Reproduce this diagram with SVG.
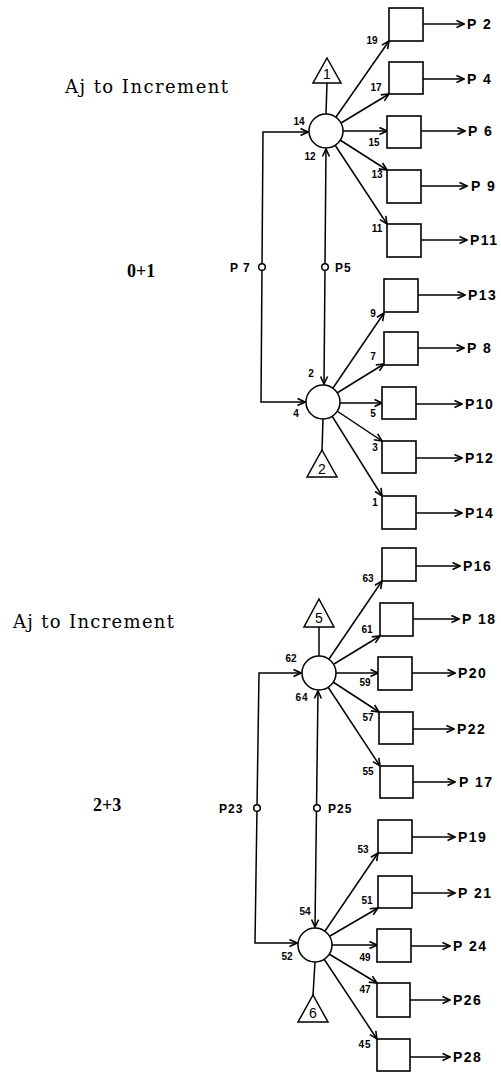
<svg xmlns="http://www.w3.org/2000/svg" width="501" height="1072" viewBox="0 0 501 1072">
<style>
.ln{stroke:#000;stroke-width:1.5;fill:none}
.bx{stroke:#000;stroke-width:1.6;fill:#fff}
.nd{stroke:#000;stroke-width:1.5;fill:#fff}
.ar{marker-end:url(#ah)}
.n{font-family:"Liberation Sans",Arial,sans-serif;font-weight:bold;font-size:10px;text-anchor:middle}
.p{font-family:"Liberation Sans",Arial,sans-serif;font-weight:bold;font-size:14px;letter-spacing:1.5px}
.ps{font-family:"Liberation Sans",Arial,sans-serif;font-weight:bold;font-size:12px;letter-spacing:1px}
.t{font-family:"Liberation Sans",Arial,sans-serif;font-size:14px;text-anchor:middle}
.s{font-family:"DejaVu Serif","Liberation Serif",serif;font-size:18px}
.d{font-family:"Liberation Serif","Times New Roman",serif;font-size:18px;font-weight:bold}
</style>
<defs>
<marker id="ah" viewBox="-9 -5 10 10" refX="0" refY="0" markerWidth="10" markerHeight="10" markerUnits="userSpaceOnUse" orient="auto-start-reverse">
<path d="M-7.5,-3.5 L0,0 L-7.5,3.5" fill="none" stroke="#000" stroke-width="1.6"/>
</marker>
</defs>
<rect width="501" height="1072" fill="#fff"/>

<g id="titles">
<text class="s" x="65" y="93" textLength="163" lengthAdjust="spacing">Aj to Increment</text>
<text class="d" x="127" y="277">0+1</text>
<text class="s" x="13" y="628" textLength="161" lengthAdjust="spacing">Aj to Increment</text>
<text class="d" x="93" y="811">2+3</text>
</g>

<g id="connectors">
<path class="ln" d="M326,114 L327,83"/>
<path class="ln" d="M323,419 L322,450"/>
<path class="ln" marker-start="url(#ah)" marker-end="url(#ah)" d="M308,132 H263 L261,402 H305"/>
<path class="ln" marker-start="url(#ah)" marker-end="url(#ah)" d="M326,149 L324,384"/>
<line class="ln ar" x1="336" y1="117" x2="389" y2="41"/>
<line class="ln ar" x1="341" y1="123" x2="389" y2="94"/>
<line class="ln ar" x1="343" y1="131" x2="387" y2="131"/>
<line class="ln ar" x1="340" y1="140" x2="387" y2="170"/>
<line class="ln ar" x1="335" y1="145" x2="387" y2="224"/>
<line class="ln ar" x1="333" y1="388" x2="384" y2="313"/>
<line class="ln ar" x1="337" y1="393" x2="384" y2="364"/>
<line class="ln ar" x1="340" y1="403" x2="382" y2="403"/>
<line class="ln ar" x1="337" y1="411" x2="382" y2="441"/>
<line class="ln ar" x1="332" y1="416" x2="382" y2="496"/>
<line class="ln ar" x1="423" y1="24" x2="464" y2="24"/>
<line class="ln ar" x1="423" y1="79" x2="464" y2="79"/>
<line class="ln ar" x1="421" y1="131" x2="465" y2="131"/>
<line class="ln ar" x1="421" y1="186" x2="467" y2="186"/>
<line class="ln ar" x1="421" y1="240" x2="467" y2="240"/>
<line class="ln ar" x1="418" y1="295" x2="465" y2="295"/>
<line class="ln ar" x1="418" y1="348" x2="464" y2="348"/>
<line class="ln ar" x1="416" y1="404" x2="462" y2="404"/>
<line class="ln ar" x1="416" y1="458" x2="462" y2="458"/>
<line class="ln ar" x1="416" y1="513" x2="462" y2="513"/>
<path class="ln" d="M319,656 L319,627"/>
<path class="ln" d="M315,962 L313,995"/>
<path class="ln" marker-start="url(#ah)" marker-end="url(#ah)" d="M301,673 H259 L255,943 H297"/>
<path class="ln" marker-start="url(#ah)" marker-end="url(#ah)" d="M318,691 L315,927"/>
<line class="ln ar" x1="329" y1="659" x2="382" y2="581"/>
<line class="ln ar" x1="334" y1="664" x2="380" y2="636"/>
<line class="ln ar" x1="336" y1="673" x2="378" y2="673"/>
<line class="ln ar" x1="333" y1="682" x2="379" y2="712"/>
<line class="ln ar" x1="328" y1="687" x2="380" y2="766"/>
<line class="ln ar" x1="325" y1="931" x2="378" y2="853"/>
<line class="ln ar" x1="330" y1="936" x2="378" y2="908"/>
<line class="ln ar" x1="332" y1="945" x2="377" y2="945"/>
<line class="ln ar" x1="329" y1="954" x2="377" y2="983"/>
<line class="ln ar" x1="324" y1="959" x2="377" y2="1039"/>
<line class="ln ar" x1="416" y1="566" x2="460" y2="566"/>
<line class="ln ar" x1="413" y1="619" x2="459" y2="619"/>
<line class="ln ar" x1="412" y1="673" x2="455" y2="673"/>
<line class="ln ar" x1="413" y1="729" x2="454" y2="729"/>
<line class="ln ar" x1="413" y1="782" x2="455" y2="782"/>
<line class="ln ar" x1="412" y1="837" x2="455" y2="837"/>
<line class="ln ar" x1="412" y1="893" x2="455" y2="893"/>
<line class="ln ar" x1="411" y1="946" x2="450" y2="946"/>
<line class="ln ar" x1="410" y1="1000" x2="450" y2="1000"/>
<line class="ln ar" x1="410" y1="1057" x2="450" y2="1057"/>
</g>

<g id="edge-labels">
<text class="n" x="372" y="44">19</text>
<text class="n" x="376" y="91">17</text>
<text class="n" x="374" y="146">15</text>
<text class="n" x="377" y="178">13</text>
<text class="n" x="377" y="232">11</text>
<text class="n" x="299" y="125">14</text>
<text class="n" x="310" y="160">12</text>
<text class="n" x="311" y="377">2</text>
<text class="n" x="373" y="317">9</text>
<text class="n" x="373" y="360">7</text>
<text class="n" x="296" y="417">4</text>
<text class="n" x="373" y="417">5</text>
<text class="n" x="375" y="451">3</text>
<text class="n" x="375" y="506">1</text>
<text class="n" x="368" y="582">63</text>
<text class="n" x="367" y="633">61</text>
<text class="n" x="291" y="662">62</text>
<text class="n" x="302" y="701" letter-spacing="1">64</text>
<text class="n" x="365" y="686">59</text>
<text class="n" x="368" y="721">57</text>
<text class="n" x="368" y="775">55</text>
<text class="n" x="363" y="853">53</text>
<text class="n" x="367" y="904">51</text>
<text class="n" x="305" y="915">54</text>
<text class="n" x="287" y="960">52</text>
<text class="n" x="365" y="961">49</text>
<text class="n" x="365" y="993">47</text>
<text class="n" x="365" y="1048" letter-spacing="1">45</text>
<text class="ps" x="230" y="272">P 7</text>
<text class="ps" x="335" y="272">P5</text>
<text class="ps" x="219" y="813">P23</text>
<text class="ps" x="328" y="813">P25</text>
</g>

<g id="outputs">
<text class="p" x="467" y="29">P 2</text>
<text class="p" x="467" y="84">P 4</text>
<text class="p" x="468" y="136">P 6</text>
<text class="p" x="471" y="191">P 9</text>
<text class="p" x="470" y="245">P11</text>
<text class="p" x="468" y="300">P13</text>
<text class="p" x="467" y="353">P 8</text>
<text class="p" x="465" y="409">P10</text>
<text class="p" x="465" y="463">P12</text>
<text class="p" x="465" y="518">P14</text>
<text class="p" x="463" y="571">P16</text>
<text class="p" x="462" y="624">P 18</text>
<text class="p" x="458" y="678">P20</text>
<text class="p" x="457" y="734">P22</text>
<text class="p" x="459" y="787">P 17</text>
<text class="p" x="458" y="842">P19</text>
<text class="p" x="458" y="898">P 21</text>
<text class="p" x="453" y="951">P 24</text>
<text class="p" x="453" y="1005">P26</text>
<text class="p" x="453" y="1062">P28</text>
</g>

<g id="node-c1"><circle class="nd" cx="326" cy="131" r="17"/></g>
<g id="node-c2"><circle class="nd" cx="323" cy="402" r="17"/></g>
<g id="node-c3"><circle class="nd" cx="319" cy="673" r="17"/></g>
<g id="node-c4"><circle class="nd" cx="315" cy="945" r="17"/></g>

<g id="node-t1"><path class="nd" d="M327,58 L341,83 L313,83 Z"/><text class="t" x="327" y="79">1</text></g>
<g id="node-t2"><path class="nd" d="M322,450 L337,477 L307,477 Z"/><text class="t" x="322" y="474">2</text></g>
<g id="node-t5"><path class="nd" d="M319,599 L334,627 L304,627 Z"/><text class="t" x="319" y="623">5</text></g>
<g id="node-t6"><path class="nd" d="M313,995 L328,1022 L298,1022 Z"/><text class="t" x="313" y="1018">6</text></g>

<g id="node-j7"><circle class="nd" cx="262" cy="267" r="3.3"/></g>
<g id="node-j5"><circle class="nd" cx="325" cy="267" r="3.3"/></g>
<g id="node-j23"><circle class="nd" cx="257" cy="808" r="3.3"/></g>
<g id="node-j25"><circle class="nd" cx="317" cy="808" r="3.3"/></g>

<g id="node-b19"><rect class="bx" x="389" y="8" width="34" height="33"/></g>
<g id="node-b17"><rect class="bx" x="389" y="62" width="34" height="32"/></g>
<g id="node-b15"><rect class="bx" x="387" y="116" width="34" height="32"/></g>
<g id="node-b13"><rect class="bx" x="387" y="170" width="34" height="33"/></g>
<g id="node-b11"><rect class="bx" x="387" y="224" width="34" height="33"/></g>
<g id="node-b9"><rect class="bx" x="384" y="279" width="34" height="33"/></g>
<g id="node-b7"><rect class="bx" x="384" y="332" width="34" height="33"/></g>
<g id="node-b5"><rect class="bx" x="382" y="387" width="34" height="32"/></g>
<g id="node-b3"><rect class="bx" x="382" y="441" width="34" height="32"/></g>
<g id="node-b1"><rect class="bx" x="382" y="496" width="34" height="33"/></g>
<g id="node-b63"><rect class="bx" x="382" y="548" width="34" height="33"/></g>
<g id="node-b61"><rect class="bx" x="380" y="603" width="33" height="33"/></g>
<g id="node-b59"><rect class="bx" x="378" y="657" width="34" height="33"/></g>
<g id="node-b57"><rect class="bx" x="379" y="712" width="34" height="32"/></g>
<g id="node-b55"><rect class="bx" x="380" y="766" width="33" height="32"/></g>
<g id="node-b53"><rect class="bx" x="378" y="820" width="34" height="33"/></g>
<g id="node-b51"><rect class="bx" x="378" y="876" width="34" height="32"/></g>
<g id="node-b49"><rect class="bx" x="377" y="929" width="34" height="33"/></g>
<g id="node-b47"><rect class="bx" x="377" y="983" width="33" height="34"/></g>
<g id="node-b45"><rect class="bx" x="377" y="1039" width="33" height="32"/></g>
</svg>
